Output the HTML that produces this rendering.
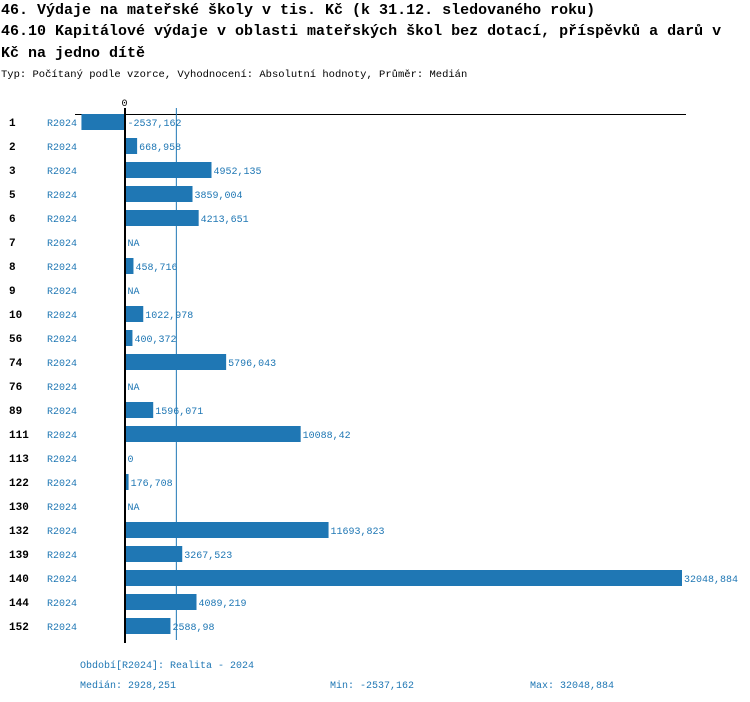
<!DOCTYPE html>
<html><head><meta charset="utf-8"><style>
body{margin:0;background:#fff;width:750px;height:702px;overflow:hidden}
svg{display:block;font-family:"Liberation Mono",monospace}
</style></head><body>
<svg width="750" height="702">
<text x="1" y="14" font-size="15" font-weight="bold">46. Výdaje na mateřské školy v tis. Kč (k 31.12. sledovaného roku)</text>
<text x="1" y="35" font-size="15" font-weight="bold">46.10 Kapitálové výdaje v oblasti mateřských škol bez dotací, příspěvků a darů v</text>
<text x="1" y="57" font-size="15" font-weight="bold">Kč na jedno dítě</text>
<text x="1" y="77" font-size="10.5">Typ: Počítaný podle vzorce, Vyhodnocení: Absolutní hodnoty, Průměr: Medián</text>
<g id="plot"></g>
<text x="80" y="668" font-size="10" fill="#1f77b4">Období[R2024]: Realita - 2024</text>
<text x="80" y="688" font-size="10" fill="#1f77b4">Medián: 2928,251</text>
<text x="330" y="688" font-size="10" fill="#1f77b4">Min: -2537,162</text>
<text x="530" y="688" font-size="10" fill="#1f77b4">Max: 32048,884</text>
</svg>
<script>
const categories=["1","2","3","5","6","7","8","9","10","56","74","76","89","111","113","122","130","132","139","140","144","152"];
const values=[-2537.162,668.958,4952.135,3859.004,4213.651,null,458.716,null,1022.978,400.372,5796.043,null,1596.071,10088.42,0,176.708,null,11693.823,3267.523,32048.884,4089.219,2588.98];
const valueLabels=["-2537,162","668,958","4952,135","3859,004","4213,651","NA","458,716","NA","1022,978","400,372","5796,043","NA","1596,071","10088,42","0","176,708","NA","11693,823","3267,523","32048,884","4089,219","2588,98"];
const median=2928.251;
const maxV=32048.884;
const NS="http://www.w3.org/2000/svg";
const g=document.getElementById('plot');
const x0=125.5, xMax=682;
const xs=v=>x0+v*(xMax-x0)/maxV;
const rowY=i=>114+24*i;
function mk(t,a){const e=document.createElementNS(NS,t);for(const k in a)e.setAttribute(k,a[k]);g.appendChild(e);return e;}
const topLine=mk('line',{x1:75,y1:114.5,x2:686,y2:114.5,stroke:'#000','stroke-width':1});


const zl=mk('text',{x:x0-1,y:106,'font-size':10,'text-anchor':'middle'});zl.textContent='0';


const mx=xs(median);
const ml=mk('line',{x1:mx,y1:108,x2:mx,y2:640,stroke:'#1f77b4','stroke-width':1});


categories.forEach((c,i)=>{
  const y=rowY(i);
  const lab=mk('text',{x:9,y:y+12,'font-size':11,'font-weight':'bold'});lab.textContent=c;
  
  
  const per=mk('text',{x:47,y:y+12,'font-size':10,fill:'#1f77b4'});per.textContent='R2024';
  
  
  const v=values[i];
  let endX=x0+2;
  if(v!==null&&v!==0){
    const a=xs(Math.min(0,v)),b=xs(Math.max(0,v));
    const r=mk('rect',{x:v<0?a:x0+0.5,y:y,width:Math.max(0,(v<0?b-a:b-x0-0.5)),height:16,fill:'#1f77b4'});
    
    
    if(v>0)endX=b+2;
  }
  const vt=mk('text',{x:endX,y:y+12,'font-size':10,fill:'#1f77b4'});vt.textContent=valueLabels[i];
  
  
});
const za=mk('line',{x1:x0-0.5,y1:108,x2:x0-0.5,y2:643,stroke:'#000','stroke-width':2});


</script>
</body></html>
